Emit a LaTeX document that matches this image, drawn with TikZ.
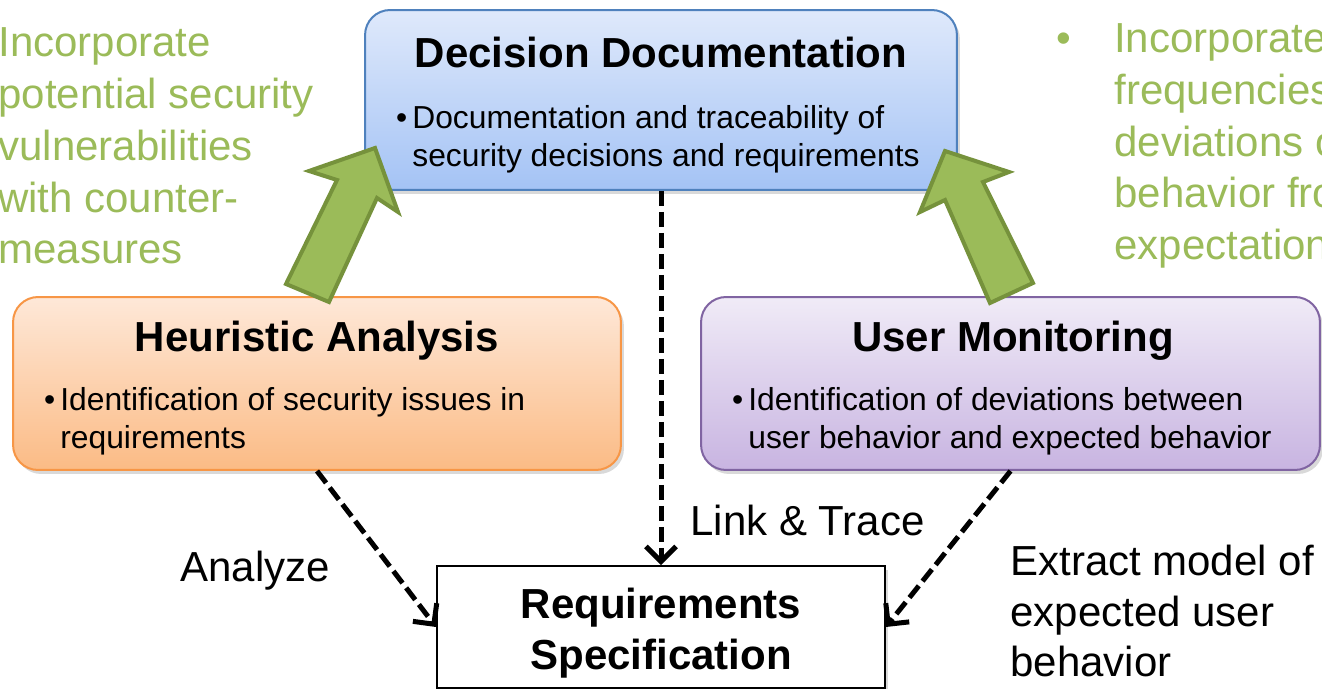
\documentclass[tikz,border=0pt]{standalone}
\usepackage{fontspec}
\setmainfont{Liberation Sans}
\usetikzlibrary{arrows.meta,shadows}

\definecolor{ddline}{HTML}{4F81BD}
\definecolor{ddtop}{HTML}{DFE9FB}
\definecolor{ddbot}{HTML}{A4C3F5}
\definecolor{haline}{HTML}{F79646}
\definecolor{hatop}{HTML}{FEE8D8}
\definecolor{habot}{HTML}{FBBB85}
\definecolor{umline}{HTML}{8064A2}
\definecolor{umtop}{HTML}{F0EBF7}
\definecolor{umbot}{HTML}{C8B4E1}
\definecolor{feedfill}{HTML}{9BBB59}
\definecolor{feedline}{HTML}{76923C}

\tikzset{
  phase/.style={rounded corners=0.5cm, line width=0.04cm, inner sep=0pt,
    drop shadow={shadow xshift=0.06cm, shadow yshift=-0.08cm, opacity=0.3}},
  phasetitle/.style={font=\fontsize{23.9}{29}\selectfont\bfseries, inner sep=0pt, anchor=base},
  phasetext/.style={font=\fontsize{18.1}{21.6}\selectfont, align=left, inner sep=0pt, anchor=west},
  note/.style={font=\fontsize{23.9}{29.5}\selectfont, text=feedfill, align=left, inner sep=0pt, anchor=west},
  lbl/.style={font=\fontsize{23.9}{29}\selectfont, align=left, inner sep=0pt},
  flow/.style={->, line width=0.1cm, dash pattern=on 0.3cm off 0.12cm},
  feed/.style={fill=feedfill, draw=feedline, line width=0.08cm, line join=miter},
}

\begin{document}
\begin{tikzpicture}[x=0.02cm,y=-0.02cm,>={Straight Barb[length=0.3cm,width=0.6cm]}]
  \clip (0,0) rectangle (1322,689);

  % Notes on what each feedback brings in (cut at the slide edge).
  \node[note] (secnote) at (-2,146) {Incorporate\\potential security\\vulnerabilities\\with counter-\\measures};
  \node[note] (usernote) at (1114,146)
    {\llap{\textbullet\hspace{0.86cm}}Incorporate\\frequencies of\\deviations of user\\behavior from\\expectations};

  % The three activities.
  \node[phase, draw=ddline, top color=ddtop, bottom color=ddbot,
    minimum width=11.84cm, minimum height=3.6cm] (doc) at (661,100) {};
  \node[phasetitle] (doctitle) at (661,68) {Decision Documentation};
  \node[phasetext] (doctext) at (412,139)
    {\llap{\textbullet\hspace{0.1cm}}Documentation and traceability of\\security decisions and requirements};

  \node[phase, draw=haline, top color=hatop, bottom color=habot,
    minimum width=12.16cm, minimum height=3.46cm] (heur) at (317,383.5) {};
  \node[phasetitle] (heurtitle) at (317,351) {Heuristic Analysis};
  \node[phasetext] (heurtext) at (60,421.5)
    {\llap{\textbullet\hspace{0.1cm}}Identification of security issues in\\requirements};

  \node[phase, draw=umline, top color=umtop, bottom color=umbot,
    minimum width=12.38cm, minimum height=3.46cm] (user) at (1010.5,383.5) {};
  \node[phasetitle] (usertitle) at (1013,351) {User Monitoring};
  \node[phasetext] (usertext) at (748,421.5)
    {\llap{\textbullet\hspace{0.1cm}}Identification of deviations between\\user behavior and expected behavior};

  % The artefact in the middle.
  \node[draw, fill=white, line width=0.04cm, minimum width=8.96cm, minimum height=2.44cm,
    drop shadow={shadow xshift=0.06cm, shadow yshift=-0.08cm, opacity=0.3}] (req) at (661,627) {};
  \node[align=center, inner sep=0pt, font=\fontsize{23.9}{29}\selectfont\bfseries] (reqtitle) at (661,633)
    {Requirements\\Specification};

  % Feedback into the documentation.
  \draw[feed] (375,148) -- (398,212) -- (377,198) -- (329,302) -- (286,284) -- (337,180) -- (309,171) -- cycle;
  \draw[feed] (945,151) -- (1009,172) -- (983,182) -- (1033,283) -- (990,303) -- (945,200) -- (920,212) -- cycle;

  % Work on the specification.
  \draw[flow] (heur.south) -- (req.west);
  \draw[flow] (doc.south) -- (req.north);
  \draw[flow] (user.south) -- (req.east);
  \node[lbl, anchor=base] (analyze) at (255,581) {Analyze};
  \node[lbl, anchor=base west] (trace) at (690,535) {Link \& Trace};
  \node[lbl, anchor=west] (extract) at (1010,611) {Extract model of\\expected user\\behavior};
\end{tikzpicture}
\end{document}
